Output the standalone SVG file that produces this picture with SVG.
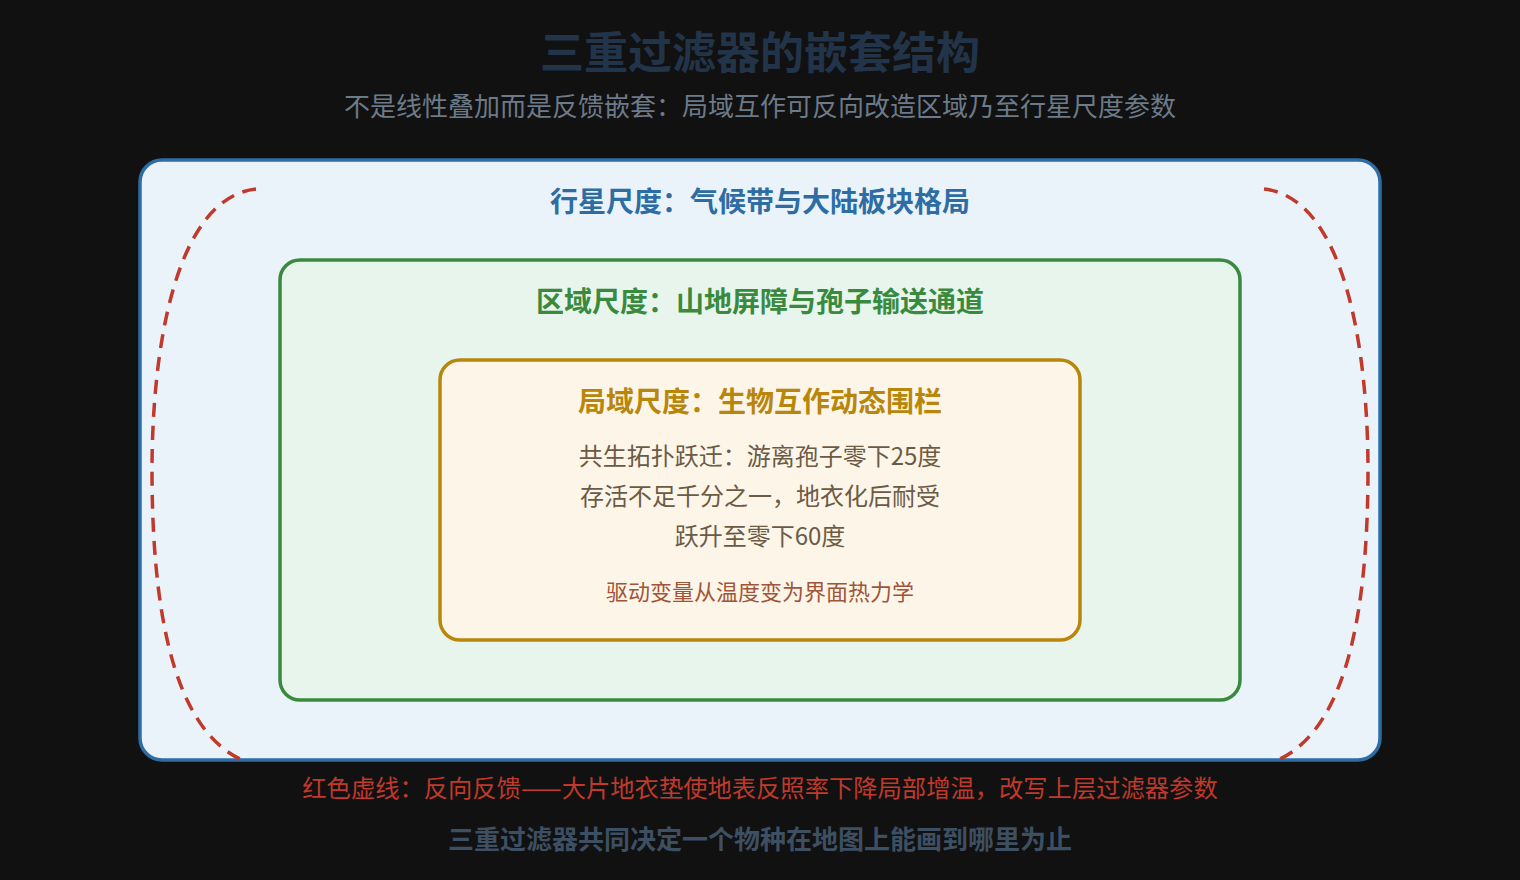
<svg xmlns="http://www.w3.org/2000/svg" width="1520" height="880" viewBox="0 0 1520 880">
<style>
text{font-family:"Noto Sans CJK SC","Noto Sans",sans-serif;text-anchor:middle}
.b{font-weight:700}
.box{stroke-width:3.5}
.fb{fill:none;stroke:#c0392b;stroke-width:3.5;stroke-dasharray:14 9}
</style>
<rect x="0" y="0" width="1520" height="880" fill="#111111"/>
<text x="760" y="69" class="b" font-size="44" fill="#22344a">三重过滤器的嵌套结构</text>
<text x="760" y="116" font-size="26" fill="#6c7a89">不是线性叠加而是反馈嵌套：局域互作可反向改造区域乃至行星尺度参数</text>
<g id="planet">
<rect class="box" x="140" y="160" width="1240" height="600" rx="22" fill="#eaf3fa" stroke="#2e6da4"/>
<text x="760" y="212" class="b" font-size="28" fill="#2e6da4">行星尺度：气候带与大陆板块格局</text>
</g>
<g id="region">
<rect class="box" x="280" y="260" width="960" height="440" rx="20" fill="#e8f5ec" stroke="#3a8a3e"/>
<text x="760" y="312" class="b" font-size="28" fill="#3a8a3e">区域尺度：山地屏障与孢子输送通道</text>
</g>
<g id="local">
<rect class="box" x="440" y="360" width="640" height="280" rx="20" fill="#fdf5e8" stroke="#b8860b"/>
<text x="760" y="412" class="b" font-size="28" fill="#b8860b">局域尺度：生物互作动态围栏</text>
<text x="760" y="465" font-size="24" fill="#6b5b45">共生拓扑跃迁：游离孢子零下25度</text>
<text x="760" y="505" font-size="24" fill="#6b5b45">存活不足千分之一，地衣化后耐受</text>
<text x="760" y="545" font-size="24" fill="#6b5b45">跃升至零下60度</text>
<text x="760" y="600" font-size="22" fill="#a0553a">驱动变量从温度变为界面热力学</text>
</g>
<g id="connectors">
<path class="fb" d="M256 189 C175 198 152 350 152 470 C152 600 170 725 240 759"/>
<path class="fb" d="M1264 189 C1345 198 1368 350 1368 470 C1368 600 1350 725 1280 759"/>
</g>
<text x="760" y="797" font-size="24.3" fill="#c0392b">红色虚线：反向反馈——大片地衣垫使地表反照率下降局部增温，改写上层过滤器参数</text>
<text x="760" y="849" class="b" font-size="26" fill="#3d4f63">三重过滤器共同决定一个物种在地图上能画到哪里为止</text>
</svg>
